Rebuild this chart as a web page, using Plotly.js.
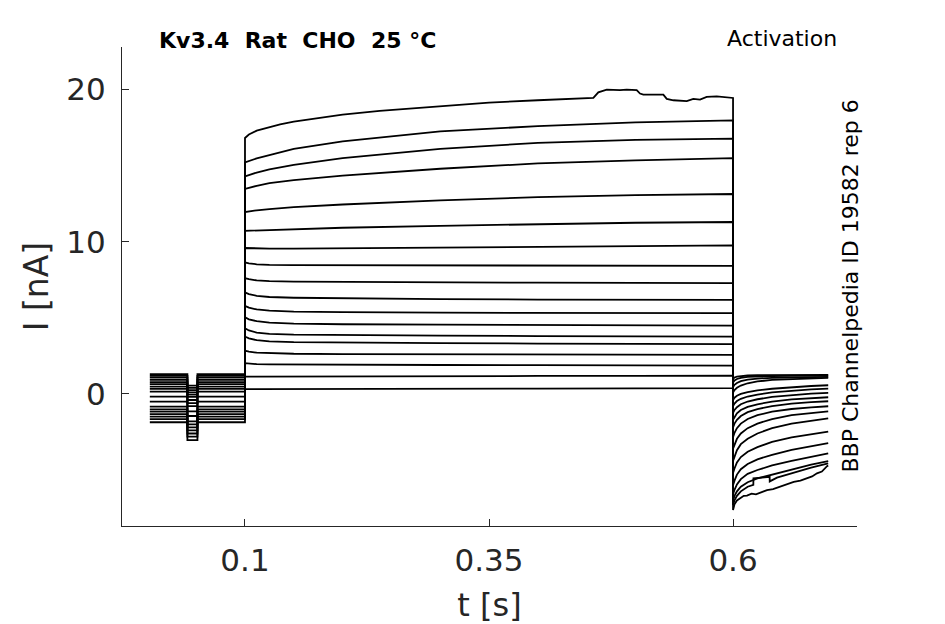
<!DOCTYPE html>
<html>
<head>
<meta charset="utf-8">
<script src="https://cdn.plot.ly/plotly-3.0.1.min.js"></script>
<style>
  html, body { margin: 0; padding: 0; background: #fff; }
  #plot { width: 945px; height: 624px; }
</style>
</head>
<body>
<div id="plot"></div>
<script>
// protocol timing (s)
let tStart = 0.0025;
let dipStart = 0.041;
let dipEnd = 0.0513;
let stepOn = 0.1;

// holding current before the step, and during the short prepulse (nA), sweeps 1..18
let baseI = [1.30, 1.18, 1.07, 0.92, 0.77, 0.64, 0.48, 0.33, 0.15, -0.18, -0.51, -0.84, -1.01, -1.16, -1.33, -1.49, -1.66, -1.86];
let dipI = [0.55, 0.40, 0.25, 0.10, -0.05, -0.20, -0.40, -0.60, -0.80, -1.15, -1.45, -1.80, -2.00, -2.20, -2.40, -2.60, -2.80, -3.03];

// step current, read at these times
let stepT = [0.1, 0.104, 0.112, 0.125, 0.15, 0.2, 0.3, 0.4, 0.5, 0.6];
let stepI = [
  null, // sweep 1 has its own arrays below
  [15.22, 15.32, 15.48, 15.70, 16.10, 16.60, 17.25, 17.60, 17.85, 17.98],
  [14.30, 14.40, 14.55, 14.75, 15.05, 15.50, 16.10, 16.50, 16.70, 16.78],
  [13.47, 13.55, 13.68, 13.85, 14.05, 14.35, 14.80, 15.15, 15.35, 15.50],
  [11.95, 12.00, 12.07, 12.15, 12.27, 12.45, 12.72, 12.93, 13.06, 13.14],
  [10.72, 10.73, 10.75, 10.78, 10.83, 10.92, 11.05, 11.17, 11.25, 11.30],
  [9.59, 9.58, 9.56, 9.55, 9.55, 9.57, 9.62, 9.67, 9.72, 9.76],
  [8.64, 8.58, 8.52, 8.48, 8.46, 8.45, 8.44, 8.43, 8.42, 8.42],
  [7.61, 7.54, 7.46, 7.41, 7.38, 7.36, 7.33, 7.31, 7.30, 7.28],
  [6.67, 6.56, 6.45, 6.37, 6.32, 6.28, 6.23, 6.20, 6.19, 6.18],
  [5.79, 5.67, 5.55, 5.47, 5.41, 5.37, 5.34, 5.32, 5.31, 5.31],
  [5.04, 4.90, 4.78, 4.68, 4.62, 4.58, 4.55, 4.52, 4.50, 4.49],
  [4.32, 4.17, 4.03, 3.95, 3.90, 3.87, 3.83, 3.80, 3.78, 3.77],
  [3.77, 3.65, 3.53, 3.45, 3.40, 3.37, 3.34, 3.31, 3.29, 3.27],
  [2.85, 2.78, 2.71, 2.67, 2.64, 2.62, 2.61, 2.60, 2.58, 2.57],
  [2.02, 1.99, 1.96, 1.94, 1.93, 1.92, 1.90, 1.89, 1.87, 1.86],
  [1.14, 1.14, 1.14, 1.15, 1.15, 1.16, 1.17, 1.18, 1.19, 1.20],
  [0.31, 0.31, 0.31, 0.32, 0.32, 0.33, 0.34, 0.35, 0.37, 0.38]
];

// largest sweep, with the noisy stretch near the end of the step
let step1T = [0.1, 0.104, 0.112, 0.118, 0.125, 0.136, 0.15, 0.2, 0.238, 0.3, 0.35, 0.4, 0.4569, 0.462, 0.4706, 0.4842, 0.4911, 0.5013, 0.5047, 0.5081, 0.5286, 0.5321, 0.5389, 0.5526, 0.5593, 0.5662, 0.573, 0.5833, 0.5969, 0.6];
let step1I = [16.82, 17.05, 17.30, 17.40, 17.55, 17.72, 17.90, 18.35, 18.60, 18.90, 19.15, 19.30, 19.45, 19.82, 20.00, 19.96, 20.00, 19.96, 19.74, 19.67, 19.67, 19.39, 19.30, 19.24, 19.39, 19.34, 19.52, 19.56, 19.45, 19.45];

// tail current after the step
let tailT = [0.6, 0.6015, 0.604, 0.608, 0.615, 0.625, 0.64, 0.66, 0.68, 0.6975];
let tailI = [
  null,
  null,
  [-7.00, -6.70, -6.40, -6.10, -5.80, -5.55, -5.30, -4.95, -4.65, -4.42],
  [-6.60, -6.30, -5.95, -5.60, -5.25, -5.00, -4.70, -4.40, -4.12, -3.90],
  [-6.00, -5.70, -5.30, -4.95, -4.60, -4.30, -4.00, -3.68, -3.44, -3.24],
  [-5.20, -4.90, -4.50, -4.15, -3.80, -3.50, -3.15, -2.85, -2.65, -2.48],
  [-4.40, -4.10, -3.70, -3.30, -2.95, -2.60, -2.25, -1.95, -1.75, -1.60],
  [-3.60, -3.30, -2.95, -2.60, -2.25, -1.95, -1.65, -1.40, -1.25, -1.14],
  [-2.85, -2.55, -2.25, -1.95, -1.65, -1.40, -1.17, -0.99, -0.88, -0.81],
  [-2.20, -1.95, -1.70, -1.45, -1.20, -1.00, -0.80, -0.64, -0.54, -0.48],
  [-1.70, -1.50, -1.28, -1.06, -0.85, -0.68, -0.50, -0.36, -0.27, -0.22],
  [-1.25, -1.05, -0.87, -0.68, -0.50, -0.35, -0.20, -0.07, 0.02, 0.07],
  [-0.80, -0.63, -0.47, -0.32, -0.17, -0.04, 0.10, 0.22, 0.30, 0.35],
  [-0.40, -0.25, -0.12, 0.00, 0.12, 0.23, 0.34, 0.45, 0.52, 0.57],
  [0.10, 0.25, 0.40, 0.55, 0.70, 0.82, 0.92, 0.98, 1.02, 1.05],
  [0.45, 0.60, 0.72, 0.84, 0.94, 1.01, 1.06, 1.09, 1.11, 1.12],
  [0.75, 0.88, 0.98, 1.06, 1.12, 1.15, 1.17, 1.18, 1.19, 1.20],
  [1.00, 1.08, 1.14, 1.18, 1.21, 1.23, 1.24, 1.24, 1.25, 1.25]
];

// the two noisy tails
let tail1T = [0.6, 0.6015, 0.604, 0.608, 0.611, 0.6143, 0.619, 0.6235, 0.628, 0.6348, 0.641, 0.6482, 0.655, 0.6622, 0.669, 0.6758, 0.681, 0.686, 0.691, 0.6963, 0.6975];
let tail1I = [-7.63, -7.25, -7.00, -6.85, -6.70, -6.68, -6.55, -6.60, -6.50, -6.32, -6.25, -6.10, -5.95, -5.78, -5.70, -5.55, -5.42, -5.22, -5.10, -4.75, -4.70];
let tail2T = [0.6, 0.6015, 0.604, 0.608, 0.615, 0.6208, 0.6209, 0.6375, 0.6376, 0.645, 0.66, 0.68, 0.6975];
let tail2I = [-7.30, -7.00, -6.70, -6.40, -6.10, -5.98, -5.55, -5.45, -5.75, -5.50, -5.20, -4.85, -4.56];

let xTicks = [0.1, 0.35, 0.6];
let xTickText = ['0.1', '0.35', '0.6'];
let yTicks = [0, 10, 20];

let data = [];

function buildSweep(i) {
  let sT = (i === 0) ? step1T : stepT;
  let sI = (i === 0) ? step1I : stepI[i];
  let tT = (i === 0) ? tail1T : (i === 1) ? tail2T : tailT;
  let tI = (i === 0) ? tail1I : (i === 1) ? tail2I : tailI[i];
  let b = baseI[i];
  let d = dipI[i];

  let x = [tStart, dipStart, dipStart, dipEnd, dipEnd, stepOn];
  let y = [b, b, d, d, b, b];
  x = x.concat(sT, tT);
  y = y.concat(sI, tI);

  return {
    x: x,
    y: y,
    type: 'scatter',
    mode: 'lines',
    line: {color: '#000000', width: 1.8},
    hoverinfo: 'skip',
    showlegend: false
  };
}

for (let i = 0; i < baseI.length; i++) {
  data.push(buildSweep(i));
}

let axisColor = '#262626';

let layout = {
  width: 945,
  height: 624,
  margin: {l: 122, r: 88, t: 47, b: 98},
  paper_bgcolor: '#ffffff',
  plot_bgcolor: '#ffffff',
  font: {family: 'DejaVu Sans, sans-serif', color: axisColor},
  xaxis: {
    range: [-0.026, 0.727],
    tickvals: xTicks,
    ticktext: xTickText,
    ticks: 'inside',
    ticklen: 7,
    tickwidth: 1,
    tickcolor: axisColor,
    tickfont: {size: 31, color: axisColor},
    ticklabelstandoff: 7,
    showgrid: false,
    zeroline: false,
    showline: true,
    linecolor: axisColor,
    linewidth: 1,
    title: {text: 't [s]', font: {size: 32, color: axisColor}, standoff: 18}
  },
  yaxis: {
    range: [-8.68, 22.8],
    tickvals: yTicks,
    ticks: 'inside',
    ticklen: 7,
    tickwidth: 1,
    tickcolor: axisColor,
    tickfont: {size: 31, color: axisColor},
    ticklabelstandoff: 9,
    showgrid: false,
    zeroline: false,
    showline: true,
    linecolor: axisColor,
    linewidth: 1,
    title: {text: 'I [nA]', font: {size: 33, color: axisColor}, standoff: 7}
  },
  annotations: [
    {
      text: '<b>Kv3.4\u00a0\u00a0Rat\u00a0\u00a0CHO\u00a0\u00a025 °C</b>',
      xref: 'paper', yref: 'paper',
      x: 0.047, y: 1.0146,
      xanchor: 'left', yanchor: 'middle',
      showarrow: false,
      font: {size: 22, color: '#000000'}
    },
    {
      text: 'Activation',
      xref: 'paper', yref: 'paper',
      x: 0.976, y: 1.017,
      xanchor: 'right', yanchor: 'middle',
      showarrow: false,
      font: {size: 22, color: '#000000'}
    },
    {
      text: 'BBP Channelpedia ID 19582 rep 6',
      xref: 'paper', yref: 'paper',
      x: 0.9905, y: 0.5,
      xanchor: 'center', yanchor: 'middle',
      textangle: -90,
      showarrow: false,
      font: {size: 22, color: '#000000'}
    }
  ]
};

Plotly.newPlot('plot', data, layout, {staticPlot: true, displayModeBar: false});
</script>
</body>
</html>
